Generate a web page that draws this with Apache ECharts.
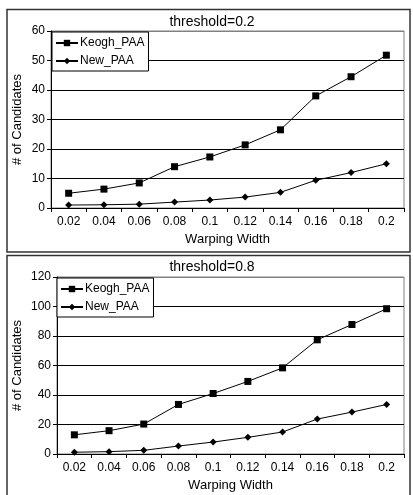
<!DOCTYPE html>
<html>
<head>
<meta charset="utf-8">
<script src="https://cdn.jsdelivr.net/npm/echarts@6/dist/echarts.min.js"></script>
<style>
  html, body { margin: 0; padding: 0; background: #fff; }
  #chart { width: 413px; height: 495px; }
</style>
</head>
<body>
<div id="chart"></div>
<script>
// data
var warpingWidth = ['0.02', '0.04', '0.06', '0.08', '0.1', '0.12', '0.14', '0.16', '0.18', '0.2']
var keoghLow = [5, 6.4, 8.5, 14, 17.3, 21.4, 26.5, 38, 44.5, 51.8]
var newLow = [1.0, 1.1, 1.3, 2.0, 2.7, 3.7, 5.3, 9.4, 12, 15]
var keoghHigh = [13, 15.8, 20.3, 33.6, 41, 49.2, 58.4, 77.4, 87.8, 98.5]
var newHigh = [1.2, 1.6, 2.5, 5.4, 8.1, 11.3, 14.9, 23.7, 28.4, 33.6]
var titles = ['threshold=0.2', 'threshold=0.8']

var font = 'Liberation Sans, Arial, sans-serif'

// shared axis pieces
function xAxisOf (grid) {
  return {
    type: 'category',
    gridIndex: grid,
    data: warpingWidth,
    boundaryGap: true,
    name: 'Warping Width',
    nameLocation: 'middle',
    nameGap: 25,
    nameMoveOverlap: false,
    nameTextStyle: { color: '#000', fontSize: 13, fontFamily: font },
    axisLine: { lineStyle: { color: '#000', width: 1 } },
    axisTick: { show: true, length: 4, alignWithLabel: false, lineStyle: { color: '#000' } },
    axisLabel: { color: '#000', fontSize: 12, fontFamily: font, margin: 8 }
  }
}
function yAxisOf (grid, max, step, gap) {
  var n = max / step + 1
  var colors = []
  for (var i = 0; i < n; i++) colors.push(i === n - 1 ? '#808080' : '#000')
  return {
    type: 'value',
    gridIndex: grid,
    min: 0,
    max: max,
    interval: step,
    name: '# of Candidates',
    nameLocation: 'middle',
    nameGap: gap,
    nameMoveOverlap: false,
    nameTextStyle: { color: '#000', fontSize: 13, fontFamily: font },
    axisLine: { show: true, lineStyle: { color: '#000', width: 1 } },
    axisTick: { show: true, length: 4, lineStyle: { color: '#000' } },
    axisLabel: { color: '#000', fontSize: 12, fontFamily: font, margin: 6 },
    splitLine: { show: true, lineStyle: { color: colors, width: 1 } }
  }
}
function lineOf (name, grid, sym, size, data) {
  return {
    name: name,
    type: 'line',
    xAxisIndex: grid,
    yAxisIndex: grid,
    symbol: sym,
    symbolSize: size,
    showAllSymbol: true,
    lineStyle: { color: '#000', width: 1 },
    itemStyle: { color: '#000' },
    data: data,
    animation: false
  }
}
function legendOf (left, top) {
  return {
    left: left,
    top: top,
    orient: 'vertical',
    backgroundColor: '#fff',
    borderColor: '#000',
    borderWidth: 1,
    borderRadius: 0,
    padding: [5, 4, 4, 3],
    itemGap: 6,
    itemWidth: 22,
    itemHeight: 8,
    textStyle: { color: '#000', fontSize: 12, fontFamily: font, padding: [0, 0, 0, -3] },
    data: ['Keogh_PAA', 'New_PAA'],
    selectedMode: false
  }
}

var chart = echarts.init(document.getElementById('chart'))
var option = {
  backgroundColor: '#fff',
  animation: false,
  title: [
    { text: titles[0], left: 212, top: 15, textAlign: 'center', padding: 0,
      textStyle: { color: '#000', fontSize: 14, fontWeight: 'normal', fontFamily: font } },
    { text: titles[1], left: 212, top: 260, textAlign: 'center', padding: 0,
      textStyle: { color: '#000', fontSize: 14, fontWeight: 'normal', fontFamily: font } }
  ],
  graphic: [
    { type: 'rect', shape: { x: 7, y: 9.5, width: 403, height: 242.5 },
      style: { fill: 'none', stroke: '#333', lineWidth: 1.5 }, z: 100 },
    { type: 'rect', shape: { x: 7, y: 255.5, width: 403, height: 245 },
      style: { fill: 'none', stroke: '#333', lineWidth: 1.5 }, z: 100 }
  ],
  grid: [
    { left: 51, right: 9, top: 31, height: 177, show: true, borderColor: '#808080', borderWidth: 1, backgroundColor: 'transparent' },
    { left: 57, right: 9, top: 277, height: 177, show: true, borderColor: '#808080', borderWidth: 1, backgroundColor: 'transparent' }
  ],
  legend: [legendOf(52, 32), legendOf(57, 278)],
  xAxis: [xAxisOf(0), xAxisOf(1)],
  yAxis: [yAxisOf(0, 60, 10, 27), yAxisOf(1, 120, 20, 33)],
  series: [
    lineOf('Keogh_PAA', 0, 'rect', 7, keoghLow),
    lineOf('New_PAA', 0, 'diamond', 7, newLow),
    lineOf('Keogh_PAA', 1, 'rect', 7, keoghHigh),
    lineOf('New_PAA', 1, 'diamond', 7, newHigh)
  ]
}
chart.setOption(option)
</script>
</body>
</html>
